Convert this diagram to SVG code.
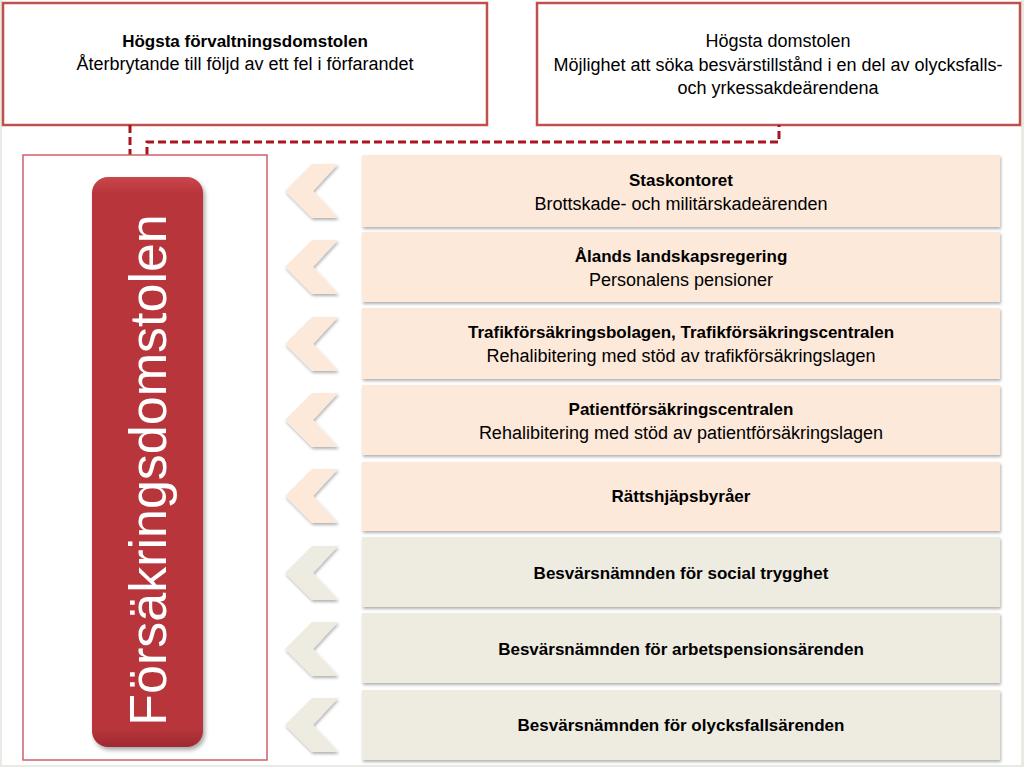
<svg xmlns="http://www.w3.org/2000/svg" width="1024" height="767" viewBox="0 0 1024 767">
<defs>
<filter id="sh" x="-10%" y="-20%" width="130%" height="150%">
<feDropShadow dx="1" dy="2" stdDeviation="1.5" flood-color="#000" flood-opacity="0.3"/>
</filter>
<filter id="sh2" x="-20%" y="-10%" width="150%" height="130%">
<feDropShadow dx="2" dy="3" stdDeviation="2" flood-color="#000" flood-opacity="0.35"/>
</filter>
<linearGradient id="bar" x1="0" y1="0" x2="0" y2="1">
<stop offset="0" stop-color="#c9474c"/>
<stop offset="0.03" stop-color="#b7343a"/>
<stop offset="0.97" stop-color="#b7343a"/>
<stop offset="1" stop-color="#9e2a30"/>
</linearGradient>
<polygon id="chev" points="27,-27 53,-27 28,0 53,27 27,27 0,0"/>
</defs>
<style>
.t{font-family:"Liberation Sans",Arial,sans-serif;font-size:18px;fill:#000;text-anchor:middle}
.b{font-weight:bold;font-size:17px}
.top{fill:#fff;stroke:#c0504d;stroke-width:2.5}
.pe{fill:#fde9d9}
.gr{fill:#eeece1}
.dash{fill:none;stroke:#a8151d;stroke-width:3;stroke-dasharray:8,4}
</style>
<rect x="0" y="0" width="1024" height="767" fill="#e8ebe3"/>
<rect x="2" y="0" width="1019" height="765" fill="#fff"/>

<g id="hfd">
<rect class="top" x="3" y="3" width="484" height="122"/>
<text class="t b" x="245" y="47">Högsta förvaltningsdomstolen</text>
<text class="t" x="245" y="70">Återbrytande till följd av ett fel i förfarandet</text>
</g>
<g id="hd">
<rect class="top" x="537" y="3" width="483" height="122"/>
<text class="t" x="778" y="47">Högsta domstolen</text>
<text class="t" x="778" y="71">Möjlighet att söka besvärstillstånd i en del av olycksfalls-</text>
<text class="t" x="778" y="94">och yrkessakdeärendena</text>
</g>

<g id="connectors">
<path class="dash" d="M130,125 V155"/>
<path class="dash" d="M147,155 V142 H779 V125"/>
</g>

<g id="fd">
<rect x="23" y="155" width="244" height="605" fill="#fff" stroke="#d0606a" stroke-width="1.5"/>
<rect x="92" y="177" width="111" height="570" rx="16" fill="url(#bar)" filter="url(#sh2)"/>
<text transform="translate(166,470) rotate(-90)" font-family="Liberation Sans,Arial,sans-serif" font-size="52" fill="#fff" text-anchor="middle">Försäkringsdomstolen</text>
</g>

<g id="r1">
<use href="#chev" x="285" y="191" class="pe" filter="url(#sh)"/>
<rect class="pe" x="362" y="155" width="638" height="72" filter="url(#sh)"/>
<text class="t b" x="681" y="186">Staskontoret</text>
<text class="t" x="681" y="210">Brottskade- och militärskadeärenden</text>
</g>
<g id="r2">
<use href="#chev" x="285" y="267" class="pe" filter="url(#sh)"/>
<rect class="pe" x="362" y="232" width="638" height="70" filter="url(#sh)"/>
<text class="t b" x="681" y="262">Ålands landskapsregering</text>
<text class="t" x="681" y="286">Personalens pensioner</text>
</g>
<g id="r3">
<use href="#chev" x="285" y="344" class="pe" filter="url(#sh)"/>
<rect class="pe" x="362" y="308" width="638" height="71" filter="url(#sh)"/>
<text class="t b" x="681" y="338">Trafikförsäkringsbolagen, Trafikförsäkringscentralen</text>
<text class="t" x="681" y="362">Rehalibitering med stöd av trafikförsäkringslagen</text>
</g>
<g id="r4">
<use href="#chev" x="285" y="420" class="pe" filter="url(#sh)"/>
<rect class="pe" x="362" y="385" width="638" height="70" filter="url(#sh)"/>
<text class="t b" x="681" y="415">Patientförsäkringscentralen</text>
<text class="t" x="681" y="439">Rehalibitering med stöd av patientförsäkringslagen</text>
</g>
<g id="r5">
<use href="#chev" x="285" y="496" class="pe" filter="url(#sh)"/>
<rect class="pe" x="362" y="462" width="638" height="69" filter="url(#sh)"/>
<text class="t b" x="681" y="502">Rättshjäpsbyråer</text>
</g>
<g id="r6">
<use href="#chev" x="285" y="573" class="gr" filter="url(#sh)"/>
<rect class="gr" x="362" y="537" width="638" height="70" filter="url(#sh)"/>
<text class="t b" x="681" y="579">Besvärsnämnden för social trygghet</text>
</g>
<g id="r7">
<use href="#chev" x="285" y="649" class="gr" filter="url(#sh)"/>
<rect class="gr" x="362" y="613" width="638" height="70" filter="url(#sh)"/>
<text class="t b" x="681" y="655">Besvärsnämnden för arbetspensionsärenden</text>
</g>
<g id="r8">
<use href="#chev" x="285" y="725" class="gr" filter="url(#sh)"/>
<rect class="gr" x="362" y="690" width="638" height="70" filter="url(#sh)"/>
<text class="t b" x="681" y="731">Besvärsnämnden för olycksfallsärenden</text>
</g>
</svg>
